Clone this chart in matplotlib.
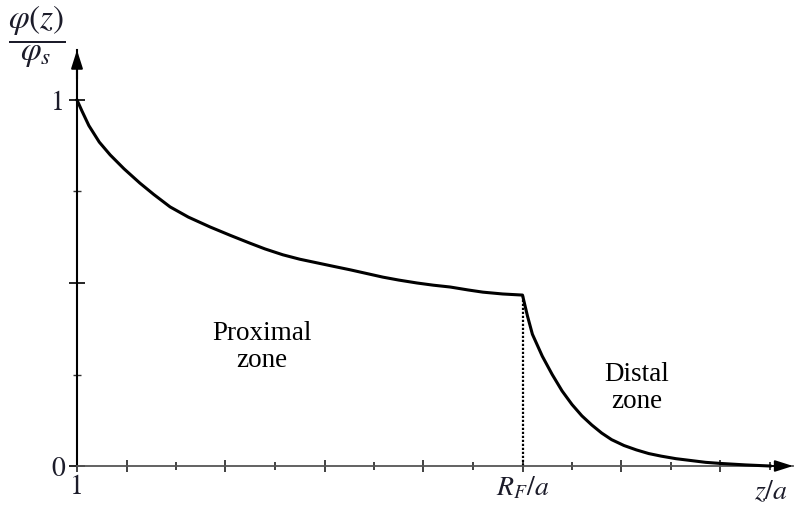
import matplotlib
matplotlib.use("Agg")
import matplotlib.pyplot as plt

plt.rcParams['mathtext.fontset'] = 'stix'

# data (x in tick units, 0 -> "1", 9 -> R_F/a)
z_prox = [0, 0.1, 0.24, 0.45, 0.67, 0.95, 1.27, 1.55, 1.88, 2.25, 2.69, 3.1, 3.49,
          3.8, 4.16, 4.5, 4.85, 5.2, 5.52, 5.85, 6.18, 6.5, 6.87, 7.2, 7.54, 7.9,
          8.2, 8.6, 9.0]
phi_prox = [1.0, 0.970, 0.930, 0.885, 0.850, 0.812, 0.773, 0.742, 0.708, 0.680,
            0.653, 0.630, 0.609, 0.593, 0.577, 0.565, 0.555, 0.545, 0.536, 0.526,
            0.516, 0.508, 0.500, 0.494, 0.489, 0.481, 0.475, 0.470, 0.467]
z_dist = [9.0, 9.1, 9.2, 9.4, 9.6, 9.8, 10.0, 10.2, 10.4, 10.6, 10.8, 11.05, 11.3,
          11.55, 11.8, 12.1, 12.4, 12.7, 13.0, 13.5, 14.0]
phi_dist = [0.467, 0.41, 0.36, 0.30, 0.25, 0.205, 0.168, 0.137, 0.112, 0.090,
            0.072, 0.056, 0.044, 0.034, 0.027, 0.020, 0.015, 0.010, 0.007, 0.003, 0.0]
rf = 9.0
x_major = [0, 1, 3, 5, 7, 9, 11, 13]
x_major_labels = ['1', '', '', '', '', r'$R_F/a$', '', '']
x_minor = [2, 4, 6, 8, 10, 12, 14]
y_major = [0, 0.5, 1]
y_major_labels = ['0', '', '1']
y_minor = [0.25, 0.75]

W, H = 795, 508
fig = plt.figure(figsize=(W / 100, H / 100), dpi=100)
ax = fig.add_axes([77 / W, (H - 466) / H, (793 - 77) / W, (466 - 50) / H])
xmax = (793 - 77) / 49.5
ymax = (466 - 50) / 366
ax.set_xlim(0, xmax)
ax.set_ylim(0, ymax)

ink = '#1c1c2a'
ax.plot(z_prox + z_dist[1:], phi_prox + phi_dist[1:], color='black', lw=2.2,
        clip_on=False, solid_joinstyle='round', zorder=3)
ax.plot([rf, rf], [0, phi_dist[0]], color='black', lw=1.6, ls=(0, (1, 0.8)), zorder=2)

for s in ['top', 'right']:
    ax.spines[s].set_visible(False)
ax.spines['left'].set_color('black')
ax.spines['left'].set_linewidth(1.5)
ax.spines['bottom'].set_color('#555555')
ax.spines['bottom'].set_linewidth(1.3)

ax.set_xticks(x_major)
ax.set_xticklabels(x_major_labels)
ax.set_xticks(x_minor, minor=True)
ax.set_yticks(y_major)
ax.set_yticklabels(y_major_labels)
ax.set_yticks(y_minor, minor=True)
ax.tick_params(axis='x', which='major', direction='inout', length=9, width=1.3,
               color='#333333', labelsize=20, labelcolor=ink, pad=2)
ax.tick_params(axis='x', which='minor', direction='inout', length=6, width=1.3,
               color='#333333')
ax.tick_params(axis='y', which='major', direction='inout', length=11, width=1.2,
               color='black', labelsize=20, labelcolor=ink, pad=3)
ax.tick_params(axis='y', which='minor', direction='inout', length=6, width=1.0,
               color='#333333')
for lab in ax.get_xticklabels() + ax.get_yticklabels():
    lab.set_family('STIXGeneral')

# arrowheads
ax.annotate('', xy=(0, ymax), xytext=(0, ymax - 0.08), annotation_clip=False,
            arrowprops=dict(arrowstyle='-|>,head_length=1.1,head_width=0.35',
                            color='black', lw=1.5, shrinkA=0, shrinkB=0))
ax.annotate('', xy=(xmax, 0), xytext=(xmax - 0.5, 0), annotation_clip=False,
            arrowprops=dict(arrowstyle='-|>,head_length=1.1,head_width=0.35',
                            color='black', lw=1.3, shrinkA=0, shrinkB=0))

# axis labels
fig.text(37 / W, 1 - 37 / H, r'$\dfrac{\varphi(z)}{\varphi_s}$', fontsize=24,
         color=ink, ha='center', va='center')
ax.text((771 - 77) / 49.5, (466 - 491) / 366, r'$z/a$', fontsize=20, color=ink,
        ha='center', va='center', clip_on=False)

# zone labels
ax.text((262 - 77) / 49.5, (466 - 347) / 366, 'Proximal\nzone', fontsize=19.5,
        family='Liberation Serif', ha='center', va='center', linespacing=1.15)
ax.text((637 - 77) / 49.5, (466 - 388) / 366, 'Distal\nzone', fontsize=19.5,
        family='Liberation Serif', ha='center', va='center', linespacing=1.15)

fig.savefig('out.png', dpi=100)
